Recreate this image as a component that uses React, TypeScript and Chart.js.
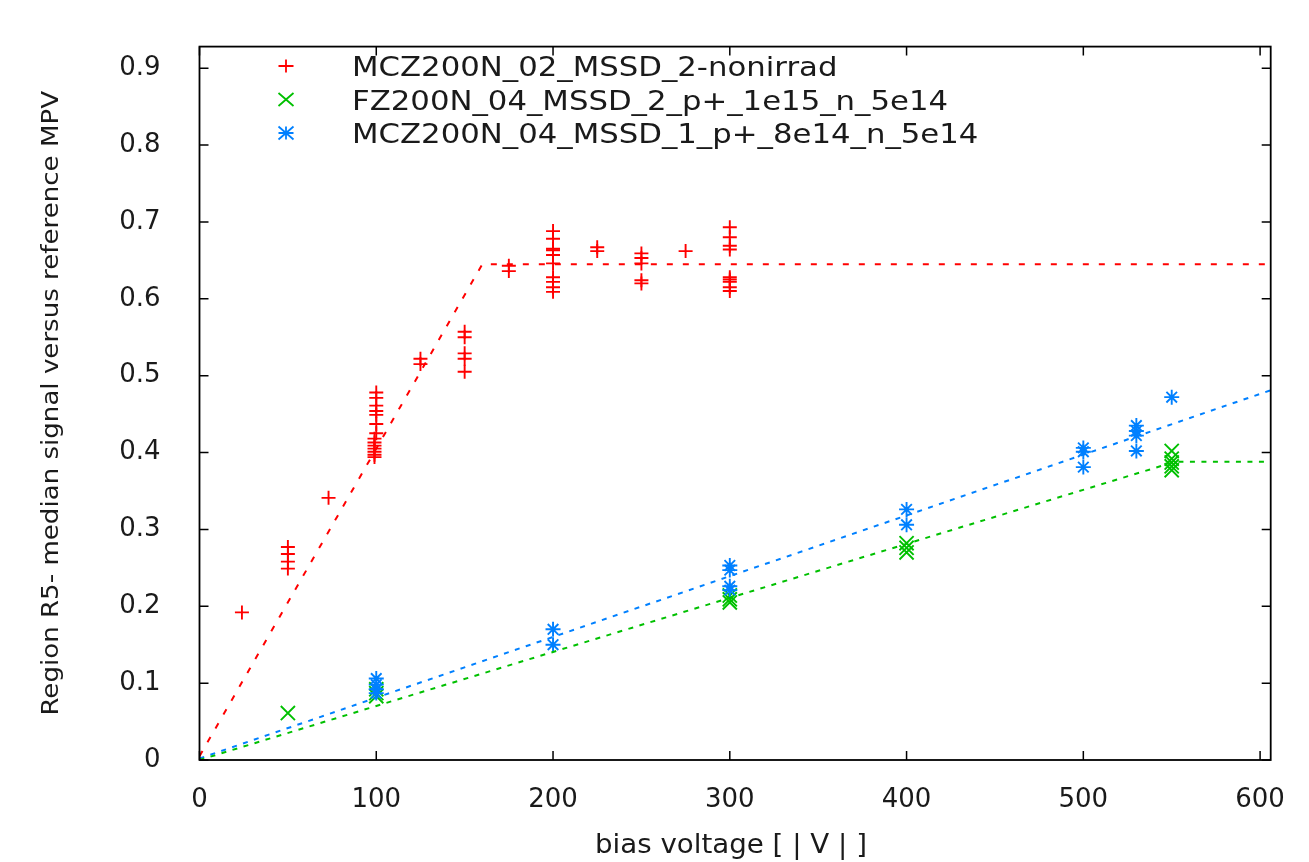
import React, { useEffect, useRef } from "react";
import { Chart, registerables } from "chart.js";

Chart.register(...registerables);

// ---------- data ----------
const X_TICKS = [0, 100, 200, 300, 400, 500, 600];
const X_TICK_LABELS = ["0", "100", "200", "300", "400", "500", "600"];
const Y_TICKS = [0, 0.1, 0.2, 0.3, 0.4, 0.5, 0.6, 0.7, 0.8, 0.9];
const Y_TICK_LABELS = ["0", "0.1", "0.2", "0.3", "0.4", "0.5", "0.6", "0.7", "0.8", "0.9"];

const SERIES_NAMES = [
  "MCZ200N_02_MSSD_2-nonirrad",
  "FZ200N_04_MSSD_2_p+_1e15_n_5e14",
  "MCZ200N_04_MSSD_1_p+_8e14_n_5e14",
];
const X_TITLE = "bias voltage [ | V | ]";
const Y_TITLE = "Region R5- median signal versus reference MPV";

const RED_X = [
  24,
  50, 50, 50, 50,
  73,
  100, 100, 100, 100, 100, 100, 100,
  99, 99, 99, 99, 99, 99, 99,
  125, 125,
  150, 150, 150, 150, 150,
  175, 175,
  200, 200, 200, 200, 200, 200, 200, 200, 200, 200,
  225, 225,
  250, 250, 250, 250, 250,
  275,
  300, 300, 300, 300, 300, 300, 300, 300, 300,
];
const RED_Y = [
  0.192,
  0.277, 0.268, 0.258, 0.249,
  0.341,
  0.478, 0.471, 0.461, 0.454, 0.449, 0.437, 0.425,
  0.418, 0.413, 0.409, 0.405, 0.401, 0.397, 0.394,
  0.522, 0.515,
  0.557, 0.55, 0.529, 0.522, 0.505,
  0.643, 0.636,
  0.688, 0.678, 0.665, 0.663, 0.657, 0.646, 0.628, 0.622, 0.615, 0.609,
  0.667, 0.662,
  0.659, 0.653, 0.646, 0.624, 0.62,
  0.662,
  0.693, 0.68, 0.669, 0.664, 0.628, 0.625, 0.622, 0.615, 0.61,
];

const GREEN_X = [50, 100, 100, 100, 300, 300, 300, 400, 400, 400, 550, 550, 550, 550, 550];
const GREEN_Y = [0.061, 0.092, 0.087, 0.083, 0.214, 0.209, 0.205, 0.282, 0.276, 0.27, 0.402, 0.392, 0.387, 0.382, 0.377];

const BLUE_X = [100, 100, 100, 100, 200, 200, 300, 300, 300, 300, 400, 400, 500, 500, 500, 530, 530, 530, 530, 550];
const BLUE_Y = [0.106, 0.098, 0.092, 0.087, 0.17, 0.15, 0.253, 0.247, 0.226, 0.221, 0.326, 0.306, 0.406, 0.401, 0.381, 0.435, 0.428, 0.422, 0.402, 0.472];

const RED_FIT_X = [0, 160, 606];
const RED_FIT_Y = [0.005, 0.645, 0.645];
const GREEN_FIT_X = [0, 552, 606];
const GREEN_FIT_Y = [0.0, 0.388, 0.388];
const BLUE_FIT_X = [0, 606];
const BLUE_FIT_Y = [0.002, 0.481];

const RED = "#ff0000";
const GREEN = "#00c000";
const BLUE = "#0080ff";
const TEXT = "#1a1a1a";
const FONT = "'DejaVu Sans', 'Liberation Sans', sans-serif";

const zip = (xs: number[], ys: number[]) => xs.map((x, i) => ({ x, y: ys[i] }));

function drawMarker(ctx: CanvasRenderingContext2D, kind: string, x: number, y: number, color: string) {
  ctx.save();
  ctx.strokeStyle = color;
  ctx.lineWidth = 1.8;
  ctx.beginPath();
  const h = 7.5;
  const v = 6.5;
  if (kind === "plus" || kind === "star") {
    ctx.moveTo(x - h, y);
    ctx.lineTo(x + h, y);
    ctx.moveTo(x, y - v);
    ctx.lineTo(x, y + v);
  }
  if (kind === "x" || kind === "star") {
    ctx.moveTo(x - h, y - v);
    ctx.lineTo(x + h, y + v);
    ctx.moveTo(x - h, y + v);
    ctx.lineTo(x + h, y - v);
  }
  ctx.stroke();
  ctx.restore();
}

const gnuplotDecor = {
  id: "gnuplotDecor",
  afterDraw(chart: any) {
    const ctx: CanvasRenderingContext2D = chart.ctx;
    const { left, right, top, bottom } = chart.chartArea;
    const xs = chart.scales.x;
    const ys = chart.scales.y;
    ctx.save();
    // frame
    ctx.strokeStyle = "#000";
    ctx.lineWidth = 1.8;
    ctx.strokeRect(left, top, right - left, bottom - top);
    // inward ticks, mirrored
    ctx.lineWidth = 1.5;
    ctx.beginPath();
    const tl = 9;
    X_TICKS.forEach((v) => {
      const px = xs.getPixelForValue(v);
      ctx.moveTo(px, bottom);
      ctx.lineTo(px, bottom - tl);
      ctx.moveTo(px, top);
      ctx.lineTo(px, top + tl);
    });
    Y_TICKS.forEach((v) => {
      const py = ys.getPixelForValue(v);
      ctx.moveTo(left, py);
      ctx.lineTo(left + tl, py);
      ctx.moveTo(right, py);
      ctx.lineTo(right - tl, py);
    });
    ctx.stroke();

    ctx.fillStyle = TEXT;
    // legend
    const kinds = ["plus", "x", "star"];
    const colors = [RED, GREEN, BLUE];
    const baselines = [76, 109.5, 143];
    SERIES_NAMES.forEach((name, i) => {
      drawMarker(ctx, kinds[i], 286, baselines[i] - 10, colors[i]);
      ctx.save();
      ctx.translate(352, baselines[i]);
      ctx.scale(1.139, 1);
      ctx.font = `27px ${FONT}`;
      ctx.textAlign = "left";
      ctx.textBaseline = "alphabetic";
      ctx.fillStyle = TEXT;
      ctx.fillText(name, 0, 0);
      ctx.restore();
    });

    // x title
    ctx.save();
    ctx.translate(731, 853);
    ctx.scale(1.064, 1);
    ctx.font = `26px ${FONT}`;
    ctx.textAlign = "center";
    ctx.textBaseline = "alphabetic";
    ctx.fillText(X_TITLE, 0, 0);
    ctx.restore();

    // y title
    ctx.save();
    ctx.translate(57.5, (top + bottom) / 2);
    ctx.rotate(-Math.PI / 2);
    ctx.scale(1.134, 1);
    ctx.font = `23px ${FONT}`;
    ctx.textAlign = "center";
    ctx.textBaseline = "alphabetic";
    ctx.fillText(Y_TITLE, 0, 0);
    ctx.restore();

    ctx.restore();
  },
};

export default function App() {
  const canvasRef = useRef<HTMLCanvasElement | null>(null);

  useEffect(() => {
    const canvas = canvasRef.current;
    if (!canvas) return;
    const pointDs = (label: string, xs: number[], ys: number[], color: string, style: string, radius: number, order: number) => ({
      type: "scatter" as const,
      label,
      data: zip(xs, ys),
      showLine: false,
      pointStyle: style,
      pointRadius: radius,
      pointBorderWidth: 1.9,
      pointBorderColor: color,
      pointBackgroundColor: color,
      borderColor: color,
      backgroundColor: color,
      order,
    });
    const fitDs = (label: string, xs: number[], ys: number[], color: string, dash: number[], order: number) => ({
      type: "scatter" as const,
      label,
      data: zip(xs, ys),
      showLine: true,
      pointRadius: 0,
      borderColor: color,
      borderWidth: 2,
      borderDash: dash,
      fill: false,
      tension: 0,
      order,
    });

    const chart = new Chart(canvas, {
      type: "scatter",
      data: {
        datasets: [
          fitDs("red fit", RED_FIT_X, RED_FIT_Y, RED, [6, 10], 1),
          fitDs("green fit", GREEN_FIT_X, GREEN_FIT_Y, GREEN, [5, 6.5], 2),
          fitDs("blue fit", BLUE_FIT_X, BLUE_FIT_Y, BLUE, [5, 6.5], 3),
          pointDs(SERIES_NAMES[2], BLUE_X, BLUE_Y, BLUE, "star", 7.5, 4),
          pointDs(SERIES_NAMES[1], GREEN_X, GREEN_Y, GREEN, "crossRot", 10, 5),
          pointDs(SERIES_NAMES[0], RED_X, RED_Y, RED, "cross", 7, 6),
        ] as any,
      },
      options: {
        animation: false,
        responsive: true,
        maintainAspectRatio: false,
        events: [],
        layout: { padding: { left: 0, right: 38.3, top: 43.6, bottom: 0 } },
        plugins: {
          legend: { display: false },
          tooltip: { enabled: false },
          title: { display: false },
        },
        scales: {
          x: {
            type: "linear",
            min: 0,
            max: 606,
            afterBuildTicks: (s: any) => {
              s.ticks = X_TICKS.map((v) => ({ value: v }));
            },
            afterFit: (s: any) => {
              s.height = 102;
            },
            grid: { display: false },
            border: { display: false },
            ticks: {
              autoSkip: false,
              maxRotation: 0,
              padding: 17,
              color: TEXT,
              font: { family: FONT, size: 26 },
              callback: (_v: any, i: number) => X_TICK_LABELS[i],
            },
          },
          y: {
            type: "linear",
            min: 0,
            max: 0.928,
            afterBuildTicks: (s: any) => {
              s.ticks = Y_TICKS.map((v) => ({ value: v }));
            },
            afterFit: (s: any) => {
              s.width = 199.5;
            },
            grid: { display: false },
            border: { display: false },
            ticks: {
              autoSkip: false,
              padding: 31,
              color: TEXT,
              font: { family: FONT, size: 26 },
              callback: (_v: any, i: number) => Y_TICK_LABELS[i],
            },
          },
        },
      },
      plugins: [gnuplotDecor],
    });
    return () => chart.destroy();
  }, []);

  return (
    <div style={{ position: "fixed", left: 0, top: 0, width: 1309, height: 862, background: "#fff" }}>
      <canvas ref={canvasRef} />
    </div>
  );
}
